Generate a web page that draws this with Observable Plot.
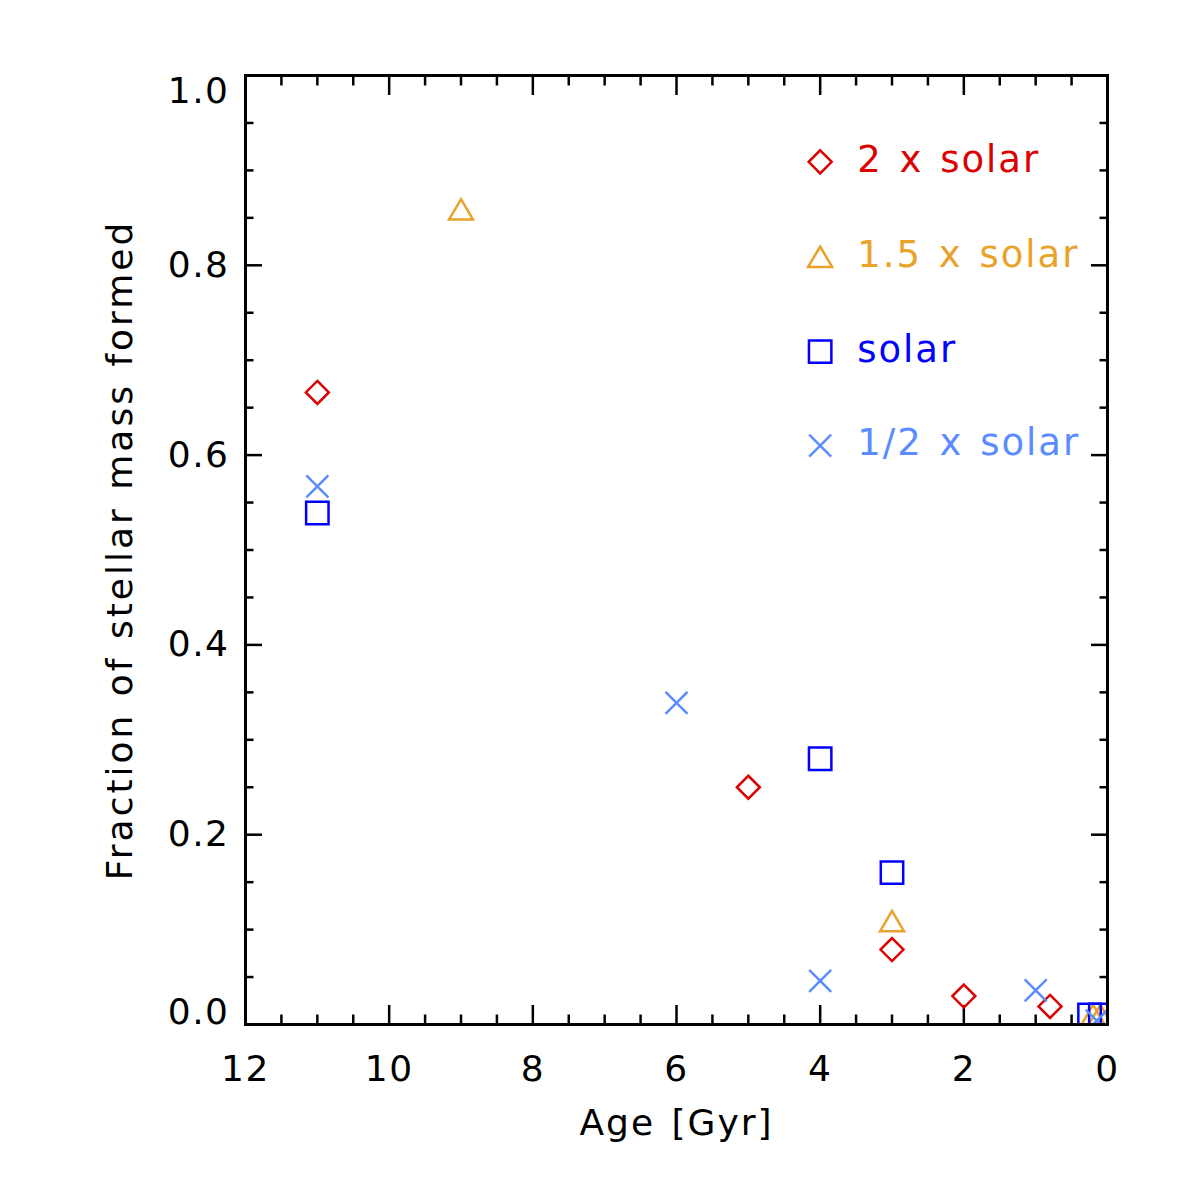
<!DOCTYPE html>
<html>
<head>
<meta charset="utf-8">
<script src="https://cdn.jsdelivr.net/npm/d3@7"></script>
<script src="https://cdn.jsdelivr.net/npm/@observablehq/plot@0.6"></script>
<style>
body { margin: 0; background: #fff; }
g[aria-label="text"] text { letter-spacing: 2px; word-spacing: 3px; }
g[aria-label="x-axis tick label"] text, g[aria-label="y-axis tick label"] text { letter-spacing: 1.5px; }
</style>
</head>
<body>
<div id="chart"></div>
<script>
// ---- Data ----
const seriesNames = ["2 x solar", "1.5 x solar", "solar", "1/2 x solar"];
const seriesColors = ["#dd0000", "#e9a22b", "#0000ff", "#5b8cff"];

const ageTwoSolar = [11, 5, 3, 2, 0.8];
const fracTwoSolar = [0.666, 0.25, 0.079, 0.03, 0.019];

const ageOneHalfSolar = [9, 3, 0.2, 0.1];
const fracOneHalfSolar = [0.859, 0.109, 0.01, 0.01];

const ageSolar = [11, 4, 3, 0.25, 0.1];
const fracSolar = [0.539, 0.28, 0.16, 0.01, 0.01];

const ageHalfSolar = [11, 6, 4, 1, 0.15];
const fracHalfSolar = [0.567, 0.339, 0.046, 0.036, 0.004];

// legend anchor positions (data units)
const legendAge = [4, 4, 4, 4];
const legendFrac = [0.909, 0.809, 0.709, 0.61];

// ticks
const xMajor = [0, 2, 4, 6, 8, 10, 12];
const xMinor = [0.5, 1, 1.5, 2.5, 3, 3.5, 4.5, 5, 5.5, 6.5, 7, 7.5, 8.5, 9, 9.5, 10.5, 11, 11.5];
const yMajor = [0, 0.2, 0.4, 0.6, 0.8, 1.0];
const yMinor = [0.05, 0.1, 0.15, 0.25, 0.3, 0.35, 0.45, 0.5, 0.55, 0.65, 0.7, 0.75, 0.85, 0.9, 0.95];
const yLabelsMid = [0.2, 0.4, 0.6, 0.8];
const yLabelsLow = [0];
const yLabelsHigh = [1];

const xTitle = "Age [Gyr]";
const yTitle = "Fraction of stellar mass formed";

// ---- Symbols (IDL-like) ----
const rad = size => Math.sqrt(size / Math.PI);
const diamondSym = {draw(c, size) { const r = rad(size); c.moveTo(0, -r); c.lineTo(r, 0); c.lineTo(0, r); c.lineTo(-r, 0); c.closePath(); }};
const triangleSym = {draw(c, size) { const r = rad(size); const h = r * 0.85; c.moveTo(-r, h); c.lineTo(0, -h); c.lineTo(r, h); c.closePath(); }};
const squareSym = {draw(c, size) { const r = rad(size); c.moveTo(-r, -r); c.lineTo(r, -r); c.lineTo(r, r); c.lineTo(-r, r); c.closePath(); }};
const timesSym = {draw(c, size) { const r = rad(size); c.moveTo(-r, -r); c.lineTo(r, r); c.moveTo(-r, r); c.lineTo(r, -r); }};
const symbols = [diamondSym, triangleSym, squareSym, timesSym];
const symbolR = [11.5, 12, 11.2, 11];

const zip = (xs, ys) => xs.map((x, i) => ({age: x, frac: ys[i]}));
const seriesData = [
  zip(ageTwoSolar, fracTwoSolar),
  zip(ageOneHalfSolar, fracOneHalfSolar),
  zip(ageSolar, fracSolar),
  zip(ageHalfSolar, fracHalfSolar)
];
const legendRows = seriesNames.map((name, i) => ({age: legendAge[i], frac: legendFrac[i], name, i}));

const tickStyle = {stroke: "black", strokeWidth: 2.5, text: null};
const fs = 36;

const marks = [
  // ticks (inward, all four sides)
  Plot.axisX({anchor: "bottom", ticks: xMajor, tickSize: -19, ...tickStyle}),
  Plot.axisX({anchor: "bottom", ticks: xMinor, tickSize: -9.5, ...tickStyle}),
  Plot.axisX({anchor: "top", ticks: xMajor, tickSize: -19, ...tickStyle}),
  Plot.axisX({anchor: "top", ticks: xMinor, tickSize: -9.5, ...tickStyle}),
  Plot.axisY({anchor: "left", ticks: yMajor, tickSize: -17, ...tickStyle}),
  Plot.axisY({anchor: "left", ticks: yMinor, tickSize: -8.5, ...tickStyle}),
  Plot.axisY({anchor: "right", ticks: yMajor, tickSize: -17, ...tickStyle}),
  Plot.axisY({anchor: "right", ticks: yMinor, tickSize: -8.5, ...tickStyle}),
  // tick labels
  Plot.axisX({anchor: "bottom", ticks: xMajor, tickSize: 0, tickPadding: 31, fontSize: fs, fill: "black"}),
  Plot.axisY({anchor: "left", ticks: yLabelsMid, tickSize: 0, tickPadding: 16, fontSize: fs, fill: "black", tickFormat: d3.format(".1f")}),
  Plot.axisY({anchor: "left", ticks: yLabelsLow, tickSize: 0, tickPadding: 16, fontSize: fs, fill: "black", tickFormat: d3.format(".1f"), dy: -12}),
  Plot.axisY({anchor: "left", ticks: yLabelsHigh, tickSize: 0, tickPadding: 16, fontSize: fs, fill: "black", tickFormat: d3.format(".1f"), dy: 16}),
  // axis titles
  Plot.text([xTitle], {frameAnchor: "bottom", dy: 99, text: d => d, fontSize: fs, fill: "black", lineAnchor: "middle", textAnchor: "middle"}),
  Plot.text([yTitle], {frameAnchor: "left", dx: -125, rotate: -90, text: d => d, fontSize: fs, fill: "black", lineAnchor: "middle", textAnchor: "middle"}),
  // data
  ...seriesData.map((rows, i) => Plot.dot(rows, {
    x: "age", y: "frac", symbol: symbols[i], r: symbolR[i],
    stroke: seriesColors[i], strokeWidth: 2.5, fill: "none", clip: true
  })),
  // legend
  ...legendRows.map(row => Plot.dot([row], {
    x: "age", y: "frac", symbol: symbols[row.i], r: symbolR[row.i],
    stroke: seriesColors[row.i], strokeWidth: 2.5, fill: "none"
  })),
  ...legendRows.map(row => Plot.text([row], {
    x: "age", y: "frac", text: "name", dx: 37, dy: -2, textAnchor: "start",
    fill: seriesColors[row.i], fontSize: 37, lineAnchor: "middle"
  })),
  Plot.frame({stroke: "black", strokeWidth: 3})
];

const chart = Plot.plot({
  width: 1180,
  height: 1180,
  marginLeft: 245,
  marginRight: 73,
  marginTop: 75,
  marginBottom: 156,
  style: {fontFamily: "DejaVu Sans", background: "white", color: "black"},
  x: {domain: [12, 0], label: null},
  y: {domain: [0, 1], label: null},
  marks
});
d3.select(chart).selectAll("text").filter(function() { return this.textContent === yTitle; })
  .style("letter-spacing", "3px").style("word-spacing", "2px");
document.getElementById("chart").appendChild(chart);
</script>
</body>
</html>
